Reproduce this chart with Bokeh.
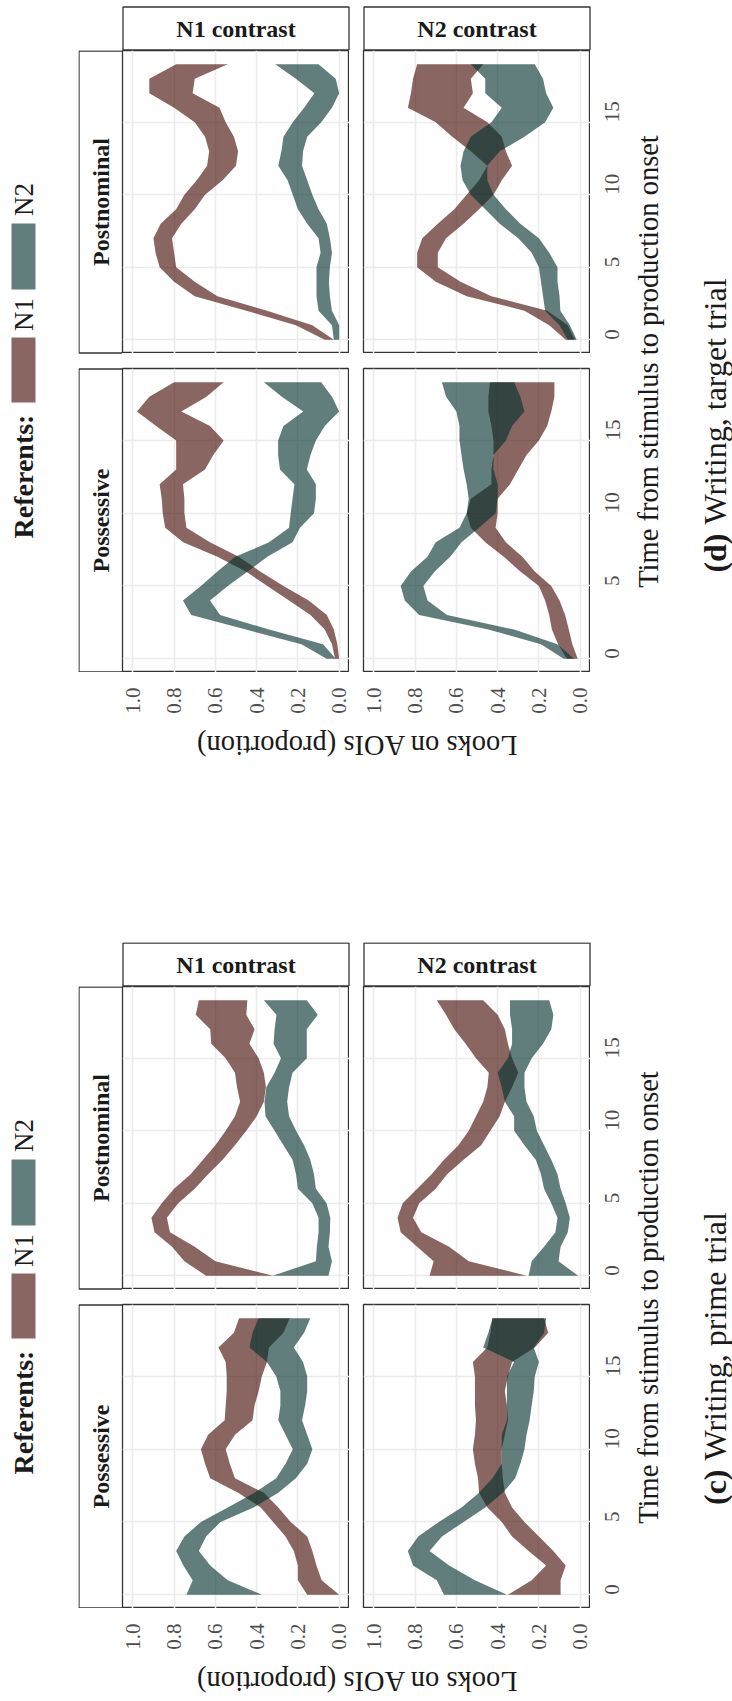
import math
from bokeh.plotting import figure
from bokeh.layouts import row, column
from bokeh.models import Range1d, LinearAxis, FixedTicker, PrintfTickFormatter
from bokeh.core.properties import value
from bokeh.embed import file_html
from bokeh.resources import INLINE

# ---------------- data ----------------
TIME = list(range(20))
PROP_TICKS = [0.0, 0.2, 0.4, 0.6, 0.8, 1.0]
TIME_TICKS = [0, 5, 10, 15]
STRUCTURES = ["Postnominal", "Possessive"]
CONTRASTS = ["N1 contrast", "N2 contrast"]
REFERENTS = ["N1", "N2"]
CAPTIONS = {"target": ("(d)", "Writing, target trial"), "prime": ("(c)", "Writing, prime trial")}

# (d) target trial
TGT_POST_N1C_N1_LO = [0.026, 0.13, 0.35, 0.59, 0.70, 0.79, 0.80, 0.81, 0.765, 0.70, 0.65, 0.565, 0.50, 0.49, 0.51, 0.55, 0.58, 0.71, 0.70, 0.54]
TGT_POST_N1C_N1_HI = [0.07, 0.21, 0.45, 0.70, 0.80, 0.87, 0.89, 0.90, 0.865, 0.79, 0.75, 0.69, 0.64, 0.63, 0.65, 0.70, 0.80, 0.92, 0.92, 0.79]
TGT_POST_N1C_N2_LO = [0.0, 0.0, 0.035, 0.045, 0.05, 0.045, 0.035, 0.045, 0.06, 0.10, 0.13, 0.155, 0.18, 0.175, 0.155, 0.087, 0.035, 0.0, 0.017, 0.10]
TGT_POST_N1C_N2_HI = [0.026, 0.035, 0.10, 0.11, 0.11, 0.11, 0.09, 0.10, 0.155, 0.20, 0.225, 0.25, 0.295, 0.28, 0.27, 0.225, 0.17, 0.12, 0.21, 0.31]

TGT_POST_N2C_N1_LO = [0.026, 0.06, 0.16, 0.43, 0.58, 0.69, 0.69, 0.65, 0.565, 0.49, 0.42, 0.38, 0.33, 0.36, 0.38, 0.45, 0.565, 0.52, 0.53, 0.47]
TGT_POST_N2C_N1_HI = [0.07, 0.15, 0.27, 0.55, 0.70, 0.79, 0.79, 0.765, 0.69, 0.61, 0.55, 0.49, 0.45, 0.53, 0.62, 0.70, 0.835, 0.82, 0.81, 0.79]
TGT_POST_N2C_N2_LO = [0.017, 0.05, 0.096, 0.10, 0.11, 0.11, 0.15, 0.20, 0.29, 0.36, 0.42, 0.45, 0.45, 0.39, 0.27, 0.17, 0.13, 0.165, 0.18, 0.22]
TGT_POST_N2C_N2_HI = [0.06, 0.10, 0.17, 0.18, 0.19, 0.20, 0.235, 0.30, 0.39, 0.46, 0.53, 0.57, 0.58, 0.565, 0.53, 0.43, 0.38, 0.46, 0.46, 0.53]

TGT_POSS_N1C_N1_LO = [0.0, 0.009, 0.026, 0.06, 0.148, 0.27, 0.383, 0.487, 0.626, 0.74, 0.75, 0.75, 0.757, 0.65, 0.61, 0.56, 0.626, 0.765, 0.643, 0.56]
TGT_POSS_N1C_N1_HI = [0.02, 0.035, 0.07, 0.139, 0.243, 0.348, 0.452, 0.59, 0.756, 0.843, 0.855, 0.86, 0.87, 0.79, 0.79, 0.79, 0.887, 0.98, 0.92, 0.80]
TGT_POSS_N1C_N2_LO = [0.017, 0.078, 0.34, 0.577, 0.626, 0.54, 0.443, 0.348, 0.226, 0.19, 0.122, 0.113, 0.113, 0.157, 0.139, 0.113, 0.07, 0.0, 0.035, 0.087]
TGT_POSS_N1C_N2_HI = [0.061, 0.183, 0.452, 0.717, 0.757, 0.67, 0.59, 0.504, 0.34, 0.243, 0.235, 0.226, 0.217, 0.287, 0.296, 0.296, 0.27, 0.174, 0.278, 0.365]

TGT_POSS_N2C_N1_LO = [0.012, 0.038, 0.055, 0.073, 0.10, 0.14, 0.22, 0.28, 0.36, 0.41, 0.40, 0.40, 0.34, 0.30, 0.26, 0.20, 0.16, 0.14, 0.125, 0.125]
TGT_POSS_N2C_N1_HI = [0.064, 0.107, 0.137, 0.15, 0.17, 0.20, 0.29, 0.37, 0.46, 0.53, 0.55, 0.53, 0.43, 0.43, 0.42, 0.42, 0.43, 0.445, 0.445, 0.437]
TGT_POSS_N2C_N2_LO = [0.03, 0.11, 0.32, 0.645, 0.74, 0.76, 0.705, 0.63, 0.575, 0.49, 0.41, 0.40, 0.40, 0.42, 0.42, 0.36, 0.33, 0.27, 0.29, 0.32]
TGT_POSS_N2C_N2_HI = [0.08, 0.19, 0.445, 0.78, 0.85, 0.87, 0.82, 0.74, 0.70, 0.585, 0.55, 0.54, 0.55, 0.565, 0.575, 0.585, 0.585, 0.60, 0.65, 0.67]

# (c) prime trial
PRM_POST_N1C_N1_LO = [0.32, 0.60, 0.70, 0.82, 0.835, 0.78, 0.70, 0.635, 0.565, 0.505, 0.45, 0.40, 0.365, 0.355, 0.365, 0.39, 0.435, 0.41, 0.45, 0.445]
PRM_POST_N1C_N1_HI = [0.645, 0.75, 0.81, 0.895, 0.91, 0.86, 0.80, 0.72, 0.66, 0.60, 0.55, 0.505, 0.48, 0.495, 0.505, 0.55, 0.62, 0.625, 0.695, 0.68]
PRM_POST_N1C_N2_LO = [0.052, 0.035, 0.052, 0.045, 0.043, 0.061, 0.113, 0.122, 0.14, 0.17, 0.209, 0.243, 0.252, 0.243, 0.226, 0.157, 0.157, 0.157, 0.104, 0.157]
PRM_POST_N1C_N2_HI = [0.322, 0.113, 0.108, 0.10, 0.10, 0.13, 0.20, 0.209, 0.226, 0.27, 0.313, 0.357, 0.362, 0.353, 0.313, 0.282, 0.318, 0.313, 0.304, 0.365]

PRM_POST_N2C_N1_LO = [0.26, 0.54, 0.635, 0.77, 0.81, 0.78, 0.70, 0.645, 0.565, 0.48, 0.435, 0.39, 0.365, 0.33, 0.30, 0.33, 0.35, 0.365, 0.40, 0.47]
PRM_POST_N2C_N1_HI = [0.73, 0.71, 0.79, 0.87, 0.885, 0.86, 0.79, 0.72, 0.66, 0.59, 0.54, 0.505, 0.47, 0.45, 0.443, 0.505, 0.555, 0.61, 0.65, 0.695]
PRM_POST_N2C_N2_LO = [0.01, 0.105, 0.095, 0.06, 0.05, 0.07, 0.095, 0.11, 0.14, 0.175, 0.21, 0.225, 0.26, 0.27, 0.27, 0.235, 0.18, 0.14, 0.13, 0.15]
PRM_POST_N2C_N2_HI = [0.25, 0.235, 0.175, 0.12, 0.11, 0.14, 0.175, 0.19, 0.215, 0.27, 0.32, 0.32, 0.365, 0.38, 0.40, 0.35, 0.33, 0.33, 0.34, 0.34]

PRM_POSS_N1C_N1_LO = [0.0, 0.085, 0.11, 0.13, 0.155, 0.235, 0.295, 0.365, 0.505, 0.53, 0.55, 0.505, 0.42, 0.41, 0.39, 0.375, 0.35, 0.34, 0.27, 0.24]
PRM_POSS_N1C_N1_HI = [0.155, 0.20, 0.20, 0.22, 0.26, 0.32, 0.38, 0.49, 0.625, 0.65, 0.67, 0.635, 0.555, 0.55, 0.545, 0.545, 0.55, 0.585, 0.51, 0.485]
PRM_POSS_N1C_N2_LO = [0.375, 0.54, 0.625, 0.68, 0.645, 0.575, 0.415, 0.295, 0.21, 0.155, 0.13, 0.155, 0.18, 0.165, 0.155, 0.155, 0.175, 0.22, 0.17, 0.14]
PRM_POSS_N1C_N2_HI = [0.74, 0.71, 0.755, 0.79, 0.75, 0.67, 0.54, 0.41, 0.305, 0.26, 0.225, 0.26, 0.295, 0.285, 0.285, 0.305, 0.35, 0.435, 0.42, 0.39]

PRM_POSS_N2C_N1_LO = [0.095, 0.095, 0.07, 0.13, 0.20, 0.27, 0.33, 0.365, 0.375, 0.38, 0.38, 0.365, 0.35, 0.355, 0.365, 0.35, 0.33, 0.22, 0.155, 0.175]
PRM_POSS_N2C_N1_HI = [0.35, 0.235, 0.165, 0.25, 0.33, 0.38, 0.45, 0.49, 0.495, 0.51, 0.52, 0.51, 0.505, 0.51, 0.51, 0.51, 0.52, 0.45, 0.435, 0.425]
PRM_POSS_N2C_N2_LO = [0.355, 0.51, 0.635, 0.73, 0.67, 0.565, 0.46, 0.375, 0.315, 0.29, 0.27, 0.26, 0.245, 0.235, 0.225, 0.22, 0.20, 0.225, 0.175, 0.165]
PRM_POSS_N2C_N2_HI = [0.66, 0.695, 0.81, 0.835, 0.785, 0.685, 0.575, 0.49, 0.425, 0.38, 0.38, 0.38, 0.355, 0.355, 0.355, 0.355, 0.32, 0.47, 0.445, 0.425]

DATA = {
    ("target", "Postnominal", "N1 contrast"): {"N1": (TGT_POST_N1C_N1_LO, TGT_POST_N1C_N1_HI), "N2": (TGT_POST_N1C_N2_LO, TGT_POST_N1C_N2_HI)},
    ("target", "Postnominal", "N2 contrast"): {"N1": (TGT_POST_N2C_N1_LO, TGT_POST_N2C_N1_HI), "N2": (TGT_POST_N2C_N2_LO, TGT_POST_N2C_N2_HI)},
    ("target", "Possessive", "N1 contrast"): {"N1": (TGT_POSS_N1C_N1_LO, TGT_POSS_N1C_N1_HI), "N2": (TGT_POSS_N1C_N2_LO, TGT_POSS_N1C_N2_HI)},
    ("target", "Possessive", "N2 contrast"): {"N1": (TGT_POSS_N2C_N1_LO, TGT_POSS_N2C_N1_HI), "N2": (TGT_POSS_N2C_N2_LO, TGT_POSS_N2C_N2_HI)},
    ("prime", "Postnominal", "N1 contrast"): {"N1": (PRM_POST_N1C_N1_LO, PRM_POST_N1C_N1_HI), "N2": (PRM_POST_N1C_N2_LO, PRM_POST_N1C_N2_HI)},
    ("prime", "Postnominal", "N2 contrast"): {"N1": (PRM_POST_N2C_N1_LO, PRM_POST_N2C_N1_HI), "N2": (PRM_POST_N2C_N2_LO, PRM_POST_N2C_N2_HI)},
    ("prime", "Possessive", "N1 contrast"): {"N1": (PRM_POSS_N1C_N1_LO, PRM_POSS_N1C_N1_HI), "N2": (PRM_POSS_N1C_N2_LO, PRM_POSS_N1C_N2_HI)},
    ("prime", "Possessive", "N2 contrast"): {"N1": (PRM_POSS_N2C_N1_LO, PRM_POSS_N2C_N1_HI), "N2": (PRM_POSS_N2C_N2_LO, PRM_POSS_N2C_N2_HI)},
}

# ---------------- style ----------------
SERIF = "Liberation Serif"
COLORS = {"N1": "#420802", "N2": "#002F2C"}
ALPHA = 0.62
GRID = "#EBEBEB"
BORDER = "#333333"
TXT = "#1A1A1A"
TICK_TXT = "#4D4D4D"

STRIP_H = 44
RS_W = 44
FW = 227
GAP = 14
FH_TOP = 303
FH_BOT = 304
VGAP = 15
AXB = 45
AXR = 40
LEG_W = 78
AX_LX = 12   # room left of the N1 column for its bottom labels
AX_MX = 7    # room between the columns for the bottom labels
MID_W = RS_W + FW + GAP + FW + AXR
RIGHT_W = 732 - LEG_W - MID_W
PANELS_H = FH_TOP + VGAP + FH_BOT


def bare(w, h, xr, yr, left=0, right=0, top=0, bottom=0):
    p = figure(width=w, height=h, x_range=xr, y_range=yr,
               output_backend="svg", toolbar_location=None,
               x_axis_location=None, y_axis_location=None,
               min_border_left=left, min_border_right=right,
               min_border_top=top, min_border_bottom=bottom)
    p.grid.visible = False
    p.outline_line_color = None
    p.background_fill_color = None
    p.border_fill_color = None
    return p


def canvas(w, h):
    return bare(w, h, Range1d(0, w), Range1d(0, h))


def style_axis(ax):
    ax.axis_line_color = None
    ax.major_tick_line_color = None
    ax.minor_tick_line_color = None
    ax.major_tick_in = 0
    ax.major_tick_out = 0
    ax.major_label_text_font = SERIF
    ax.major_label_text_font_size = "21px"
    ax.major_label_text_color = TICK_TXT
    ax.major_label_orientation = math.pi / 2


def make_panel(trial, structure, contrast, xr, yr):
    top_row = structure == STRUCTURES[0]
    right_col = contrast == CONTRASTS[1]
    w = FW + (GAP if right_col else 0)
    h = FH_TOP if top_row else VGAP + FH_BOT
    p = figure(width=w, height=h, x_range=xr, y_range=yr,
               output_backend="svg", toolbar_location=None,
               x_axis_location=None, y_axis_location=None,
               min_border_left=GAP if right_col else 0, min_border_right=0,
               min_border_top=0 if top_row else VGAP, min_border_bottom=0)
    p.xgrid.ticker = FixedTicker(ticks=PROP_TICKS)
    p.ygrid.ticker = FixedTicker(ticks=TIME_TICKS)
    p.grid.grid_line_color = GRID
    p.grid.grid_line_width = 1.6
    p.outline_line_color = BORDER
    p.outline_line_width = 1.3
    p.background_fill_color = "white"
    p.border_fill_color = None
    d = DATA[(trial, structure, contrast)]
    for ref in REFERENTS:
        lo, hi = d[ref]
        p.harea(x1=lo, x2=hi, y=TIME, fill_color=COLORS[ref], fill_alpha=ALPHA)
    return p


def prop_axis_fig(xr, left, right):
    p = bare(left + FW + right, AXB, xr, Range1d(0, 1), left=left, right=right, top=0, bottom=AXB - 2)
    ax = LinearAxis(ticker=FixedTicker(ticks=PROP_TICKS), formatter=PrintfTickFormatter(format="%.1f"))
    style_axis(ax)
    ax.major_label_standoff = 13
    p.add_layout(ax, "below")
    return p


def time_axis_fig(yr, h, top):
    p = bare(AXR, h, Range1d(0, 1), yr, left=0, right=AXR - 4, top=top, bottom=0)
    ay = LinearAxis(ticker=FixedTicker(ticks=TIME_TICKS))
    style_axis(ay)
    ay.major_label_standoff = 18
    p.add_layout(ay, "right")
    return p


def strip_box(p, x0, x1, y0, y1):
    p.quad(left=[x0 + 0.5], right=[x1 - 0.5], bottom=[y0 + 0.5], top=[y1 - 0.5],
           fill_color="white", line_color=BORDER, line_width=1.3)


def vtext(p, x, y, txt, size, bold=False, align="center", angle=math.pi / 2):
    p.text(x=[x], y=[y], text=[txt], angle=angle, text_align=align, text_baseline="middle",
           text_font=value(SERIF), text_font_style="bold" if bold else "normal",
           text_font_size=size, text_color=TXT)


def make_block(trial, block_h, top_pad):
    def yy(r):
        return block_h - top_pad - r

    xrs = [Range1d(1.05, -0.05), Range1d(1.05, -0.05)]
    yr = Range1d(-0.95, 19.95)

    # legend (reads bottom-to-top)
    leg = canvas(LEG_W, block_h)
    vtext(leg, 23, yy(193), REFERENTS[1], "27px")
    leg.quad(left=[11], right=[35], top=[yy(217)], bottom=[yy(283)], fill_color=COLORS["N2"],
             fill_alpha=ALPHA, line_color=None)
    vtext(leg, 23, yy(308), REFERENTS[0], "27px")
    leg.quad(left=[11], right=[35], top=[yy(331)], bottom=[yy(396)], fill_color=COLORS["N1"],
             fill_alpha=ALPHA, line_color=None)
    vtext(leg, 23, yy(470), "Referents:", "28px", bold=True)

    # column strips
    strips = canvas(MID_W, top_pad + STRIP_H)
    for i, c in enumerate(CONTRASTS):
        x0 = RS_W + i * (FW + GAP)
        strip_box(strips, x0, x0 + FW, 0, STRIP_H)
        strips.text(x=[x0 + FW / 2], y=[STRIP_H / 2], text=[c], text_align="center", text_baseline="middle",
                    text_font=value(SERIF), text_font_style="bold", text_font_size="24px", text_color=TXT)

    # row strips
    rs = canvas(RS_W, PANELS_H)
    boxes = [(PANELS_H - FH_TOP, PANELS_H), (0, FH_BOT)]
    for s, (b, t) in zip(STRUCTURES, boxes):
        strip_box(rs, 0, RS_W + 0.5, b, t)
        vtext(rs, RS_W / 2, (b + t) / 2, s, "24px", bold=True)

    panels = column(
        row(make_panel(trial, STRUCTURES[0], CONTRASTS[0], xrs[0], yr),
            make_panel(trial, STRUCTURES[0], CONTRASTS[1], xrs[1], yr)),
        row(make_panel(trial, STRUCTURES[1], CONTRASTS[0], xrs[0], yr),
            make_panel(trial, STRUCTURES[1], CONTRASTS[1], xrs[1], yr)),
    )
    time_axes = column(time_axis_fig(yr, FH_TOP, 0), time_axis_fig(yr, VGAP + FH_BOT, VGAP))

    prop_axes = row(canvas(RS_W - AX_LX, AXB),
                    prop_axis_fig(xrs[0], AX_LX, AX_MX),
                    prop_axis_fig(xrs[1], GAP - AX_MX, AXR))

    title_h = block_h - top_pad - STRIP_H - PANELS_H - AXB
    tt = canvas(MID_W, title_h)
    vtext(tt, RS_W + FW + GAP / 2, title_h - 28, "Looks on AOIs (proportion)", "28.5px", angle=math.pi)

    mid = column(strips, row(rs, panels, time_axes), prop_axes, tt)

    right = canvas(RIGHT_W, block_h)
    vtext(right, 18, yy(STRIP_H + PANELS_H / 2), "Time from stimulus to production onset", "28.5px")
    lab, rest = CAPTIONS[trial]
    anchor = yy(527)
    vtext(right, 84, anchor, lab, "32px", bold=True, align="right")
    vtext(right, 84, anchor + 9, rest, "32px", align="left")
    return row(leg, mid, right)


page = column(make_block("target", 942, 6), make_block("prime", 755, 0))
open("out.html", "w").write(file_html(page, INLINE))
